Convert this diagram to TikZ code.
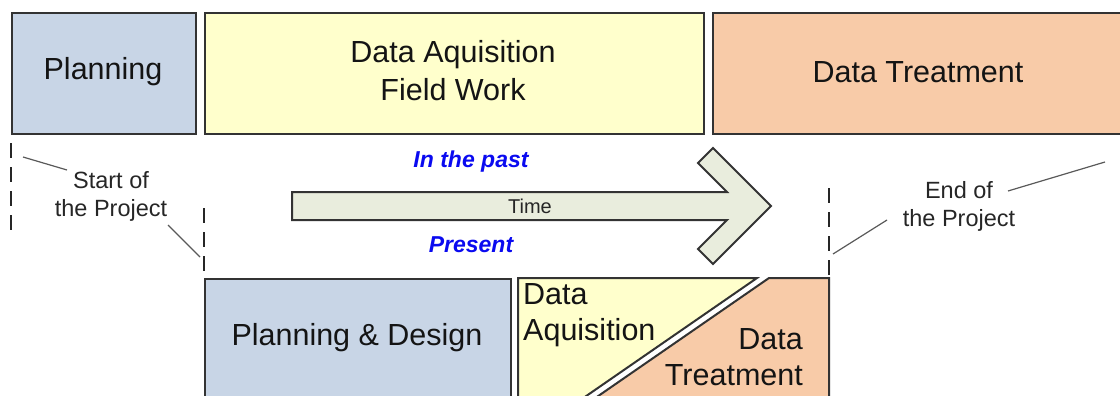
\documentclass[tikz,border=0pt]{standalone}
\usepackage{fontspec}
\setmainfont{Liberation Sans}
\definecolor{planblue}{HTML}{C8D5E6}
\definecolor{acqyellow}{HTML}{FFFFCC}
\definecolor{treatorange}{HTML}{F8CBA8}
\definecolor{arrowfill}{HTML}{E9EDDD}
\definecolor{edgegray}{HTML}{333333}
\definecolor{textblue}{HTML}{0A0AF0}
\begin{document}
\begin{tikzpicture}[x=1pt,y=-1pt,
  phase/.style={draw=edgegray, line width=2pt, rectangle, anchor=north west, inner sep=0pt},
  biglabel/.style={inner sep=0pt, text=black!92, font=\fontsize{30.5}{38}\selectfont, align=center},
  smalllabel/.style={inner sep=0pt, text=black!85, font=\fontsize{23.5}{28}\selectfont, align=center},
  eralabel/.style={inner sep=0pt, text=textblue, font=\fontsize{23}{28}\selectfont\bfseries\itshape},
  milestone/.style={draw=black!85, line width=2pt, dash pattern=on 15pt off 9pt},
  leader/.style={draw=black!65, line width=1.2pt}]
\useasboundingbox (0,0) rectangle (1120,396);
\clip (0,0) rectangle (1120,396);

% top row (past)
\node[phase, fill=planblue, minimum width=184pt, minimum height=121pt] (plantop) at (11,12) {};
\node[phase, fill=acqyellow, minimum width=499pt, minimum height=121pt] (acqtop) at (204,12) {};
\node[phase, fill=treatorange, minimum width=420pt, minimum height=121pt] (treattop) at (712,12) {};
\node[biglabel] (plantoplbl) at (103,72) {Planning};
\node[biglabel] (acqtoplbl) at (453,71) {Data Aquisition\\Field Work};
\node[biglabel] (treattoplbl) at (918,72) {Data Treatment};

% bottom row (present)
\node[phase, fill=planblue, minimum width=306pt, minimum height=140pt] (planbot) at (204,278) {};
\node[biglabel] (planbotlbl) at (357,338) {Planning \& Design};
\filldraw[fill=acqyellow, draw=edgegray, line width=2pt, line join=miter]
  (518,278) -- (757,278) -- (566,410) -- (518,410) -- cycle;
\filldraw[fill=treatorange, draw=edgegray, line width=2pt, line join=miter]
  (769,278) -- (829,278) -- (829,410) -- (578,410) -- cycle;
\node[biglabel, align=left, anchor=west, font=\fontsize{30.5}{36}\selectfont] (acqbotlbl) at (523,315) {Data\\Aquisition};
\node[biglabel, align=right, anchor=east, font=\fontsize{30.5}{36}\selectfont] (treatbotlbl) at (803,357) {Data\\Treatment};

% time arrow
\filldraw[fill=arrowfill, draw=edgegray, line width=2pt, line join=miter]
  (292,192) -- (727,192) -- (698,163) -- (713,148) -- (771,206) -- (713,264) -- (698,249) -- (727,220) -- (292,220) -- cycle;
\node[inner sep=0pt, text=black!85, font=\fontsize{20}{24}\selectfont] (timelbl) at (530,206) {Time};
\node[eralabel] (past) at (471,162) {In the past};
\node[eralabel] (present) at (471,245) {Present};

% milestones
\coordinate (ms1a) at (11,143); \coordinate (ms1b) at (11,232);
\coordinate (ms2a) at (204,208); \coordinate (ms2b) at (204,272);
\coordinate (ms3a) at (829,188); \coordinate (ms3b) at (829,276);
\draw[milestone] (ms1a) -- (ms1b);
\draw[milestone] (ms2a) -- (ms2b);
\draw[milestone] (ms3a) -- (ms3b);

\node[smalllabel] (startlbl) at (111,196) {Start of\\the Project};
\node[smalllabel] (endlbl) at (959,206) {End of\\the Project};

\coordinate (s1) at (23,157); \coordinate (s1t) at (67,170);
\coordinate (s2) at (200,257); \coordinate (s2t) at (168,225);
\coordinate (e1) at (1105,162); \coordinate (e1t) at (1008,191);
\coordinate (e2) at (833,254); \coordinate (e2t) at (887,220);
\draw[leader] (s1) -- (s1t);
\draw[leader] (s2t) -- (s2);
\draw[leader] (e1t) -- (e1);
\draw[leader] (e2) -- (e2t);
\end{tikzpicture}
\end{document}
